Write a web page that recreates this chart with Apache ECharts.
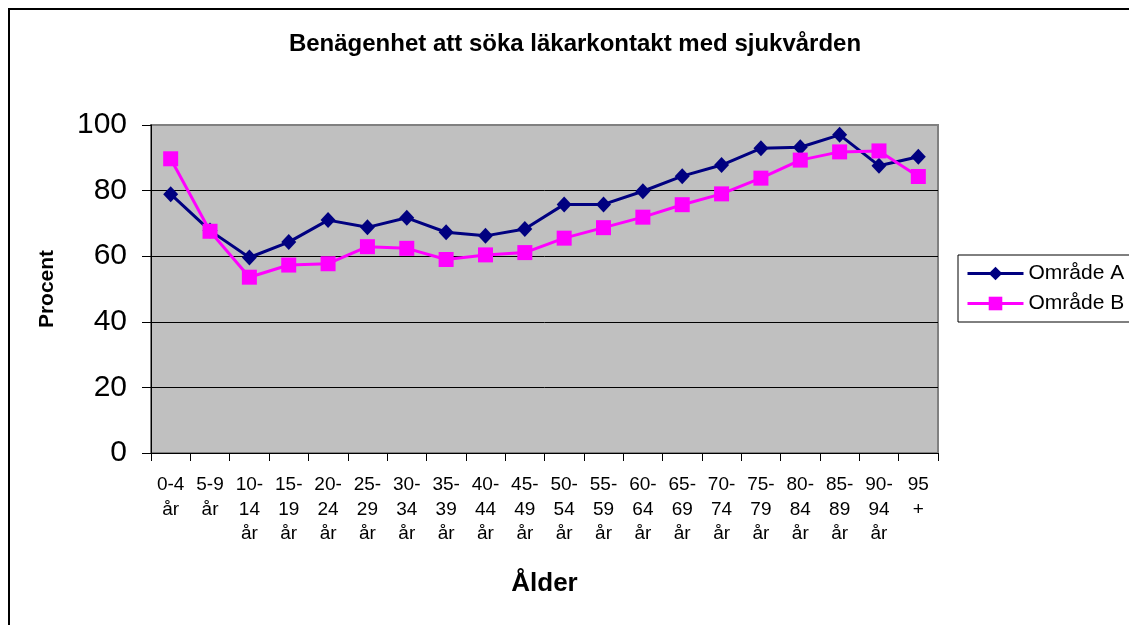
<!DOCTYPE html>
<html>
<head>
<meta charset="utf-8">
<script src="https://cdn.jsdelivr.net/npm/echarts@6/dist/echarts.min.js"></script>
<style>
html,body{margin:0;padding:0;background:#fff;}
#chart{width:1129px;height:625px;}
</style>
</head>
<body>
<div id="chart"></div>
<script>
const categories = ["0-4\når","5-9\når","10-\n14\når","15-\n19\når","20-\n24\når","25-\n29\når","30-\n34\når","35-\n39\når","40-\n44\når","45-\n49\når","50-\n54\når","55-\n59\når","60-\n64\når","65-\n69\når","70-\n74\når","75-\n79\når","80-\n84\når","85-\n89\når","90-\n94\når","95\n+"];
const omradeA = [78.9, 67.8, 59.6, 64.3, 71.0, 68.8, 71.7, 67.3, 66.2, 68.3, 75.8, 75.8, 79.8, 84.4, 87.8, 92.9, 93.2, 97.0, 87.6, 90.3];
const omradeB = [89.7, 67.6, 53.6, 57.3, 57.7, 62.9, 62.4, 59.0, 60.4, 61.1, 65.5, 68.7, 71.9, 75.7, 79.0, 83.8, 89.3, 91.8, 92.1, 84.3];
const seriesNames = ["Område A", "Område B"];
const yTicks = [0, 20, 40, 60, 80, 100];

const FONT = "'Liberation Sans', Arial, sans-serif";
const chart = echarts.init(document.getElementById('chart'), null, {renderer: 'canvas'});
chart.setOption({
  animation: false,
  backgroundColor: '#ffffff',
  title: {
    text: 'Benägenhet att söka läkarkontakt med sjukvården',
    left: 575, top: 32, textAlign: 'center', padding: 0,
    textStyle: {fontFamily: FONT, fontSize: 24, fontWeight: 'bold', color: '#000'}
  },
  graphic: [
    {type: 'line', shape: {x1: 8, y1: 9, x2: 1129, y2: 9}, style: {stroke: '#000', lineWidth: 2}},
    {type: 'line', shape: {x1: 9, y1: 9, x2: 9, y2: 625}, style: {stroke: '#000', lineWidth: 2}}
  ],
  legend: {
    orient: 'vertical', left: 958, top: 255,
    data: seriesNames,
    backgroundColor: '#fff', borderColor: '#000', borderWidth: 1,
    padding: [8, 20, 8, 8], itemWidth: 56, itemHeight: 17, itemGap: 9,
    lineStyle: {width: 3},
    textStyle: {fontFamily: FONT, fontSize: 21, color: '#000'}
  },
  grid: {
    left: 151, right: 191, top: 125, bottom: 172,
    show: true, backgroundColor: '#c0c0c0', borderColor: '#808080', borderWidth: 2
  },
  xAxis: {
    type: 'category', data: categories, boundaryGap: true,
    name: 'Ålder', nameLocation: 'middle', nameGap: 118,
    nameTextStyle: {fontFamily: FONT, fontSize: 26, fontWeight: 'bold', color: '#000'},
    axisLine: {lineStyle: {color: '#000', width: 1}},
    axisTick: {show: true, length: 8, lineStyle: {color: '#000'}},
    axisLabel: {interval: 0, fontFamily: FONT, fontSize: 19, lineHeight: 24.5, color: '#000', margin: 20, align: 'center'},
    splitLine: {show: false}
  },
  yAxis: {
    type: 'value', min: yTicks[0], max: yTicks[yTicks.length - 1], interval: 20,
    name: 'Procent', nameLocation: 'middle', nameGap: 93, nameRotate: 90,
    nameTextStyle: {fontFamily: FONT, fontSize: 21, fontWeight: 'bold', color: '#000'},
    axisLine: {show: true, lineStyle: {color: '#000', width: 1}},
    axisTick: {show: true, length: 9, lineStyle: {color: '#000'}},
    axisLabel: {fontFamily: FONT, fontSize: 30, color: '#000', margin: 24},
    splitLine: {show: true, showMinLine: false, showMaxLine: false, lineStyle: {color: '#000', width: 1}}
  },
  series: [
    {
      name: seriesNames[0], type: 'line', data: omradeA,
      symbol: 'diamond', symbolSize: [15, 16],
      lineStyle: {color: '#000080', width: 3},
      itemStyle: {color: '#000080'}
    },
    {
      name: seriesNames[1], type: 'line', data: omradeB,
      symbol: 'rect', symbolSize: 15,
      lineStyle: {color: '#ff00ff', width: 3},
      itemStyle: {color: '#ff00ff'}
    }
  ]
});
</script>
</body>
</html>
